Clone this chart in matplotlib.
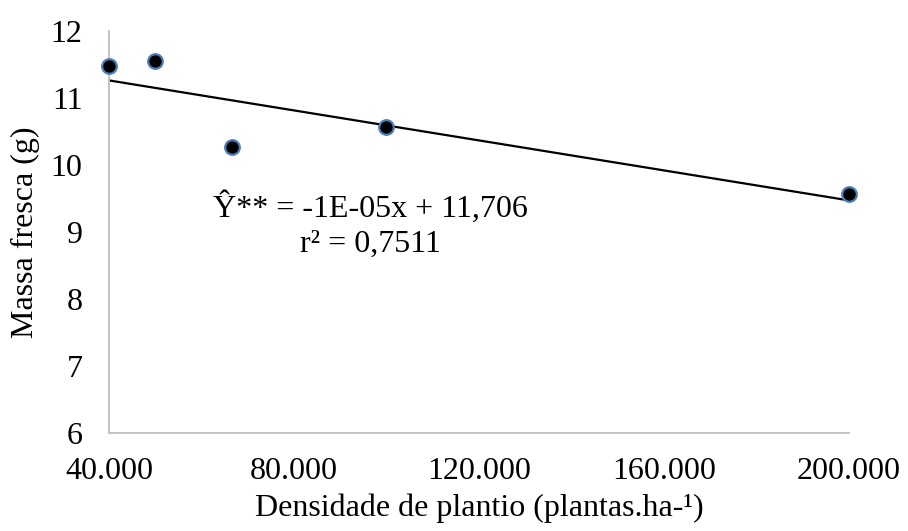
import numpy as np
import matplotlib.pyplot as plt
from matplotlib.ticker import FuncFormatter

plt.rcParams['font.family'] = ['Liberation Serif', 'DejaVu Serif']

# densidade de plantio (plantas/ha) e massa fresca (g)
densidade = [40000, 50000, 66667, 100000, 200000]
massa = [11.48, 11.55, 10.27, 10.57, 9.57]
x_ticks = [40000, 80000, 120000, 160000, 200000]
y_ticks = [6, 7, 8, 9, 10, 11, 12]

# regressao linear
coef = np.polyfit(densidade, massa, 1)
xl = np.array([min(densidade), max(densidade)])
yl = np.polyval(coef, xl)

fig = plt.figure(figsize=(9.08, 5.31), dpi=100)
ax = fig.add_axes([0.12, 0.1846, 0.815, 0.757])

ax.plot(xl, yl, color='black', lw=1.6, zorder=2)
ax.plot(densidade, massa, 'o', ms=10.5, mfc='black', mec='#4a7ebb', mew=1.6, zorder=3, clip_on=False)

ax.set_xlim(40000, 200000)
ax.set_ylim(6, 12)
ax.set_xticks(x_ticks)
ax.set_yticks(y_ticks)
ax.xaxis.set_major_formatter(FuncFormatter(lambda v, p: f'{int(v):,}'.replace(',', '.')))
ax.tick_params(length=0, labelsize=23)
ax.tick_params(axis='y', pad=19)
ax.tick_params(axis='x', pad=17)

for s in ['top', 'right']:
    ax.spines[s].set_visible(False)
for s in ['left', 'bottom']:
    ax.spines[s].set_color('#bfbfbf')
    ax.spines[s].set_linewidth(1.3)

ax.set_xlabel('Densidade de plantio (plantas.ha-¹)', fontsize=23, labelpad=6)
ax.set_ylabel('Massa fresca (g)', fontsize=23, labelpad=8)

ax.text(0.354, 0.537, 'Ŷ** = -1E-05x + 11,706', transform=ax.transAxes,
        fontsize=23, ha='center', va='baseline')
ax.text(0.354, 0.450, 'r² = 0,7511', transform=ax.transAxes,
        fontsize=23, ha='center', va='baseline')

fig.savefig('out.png', dpi=100)
